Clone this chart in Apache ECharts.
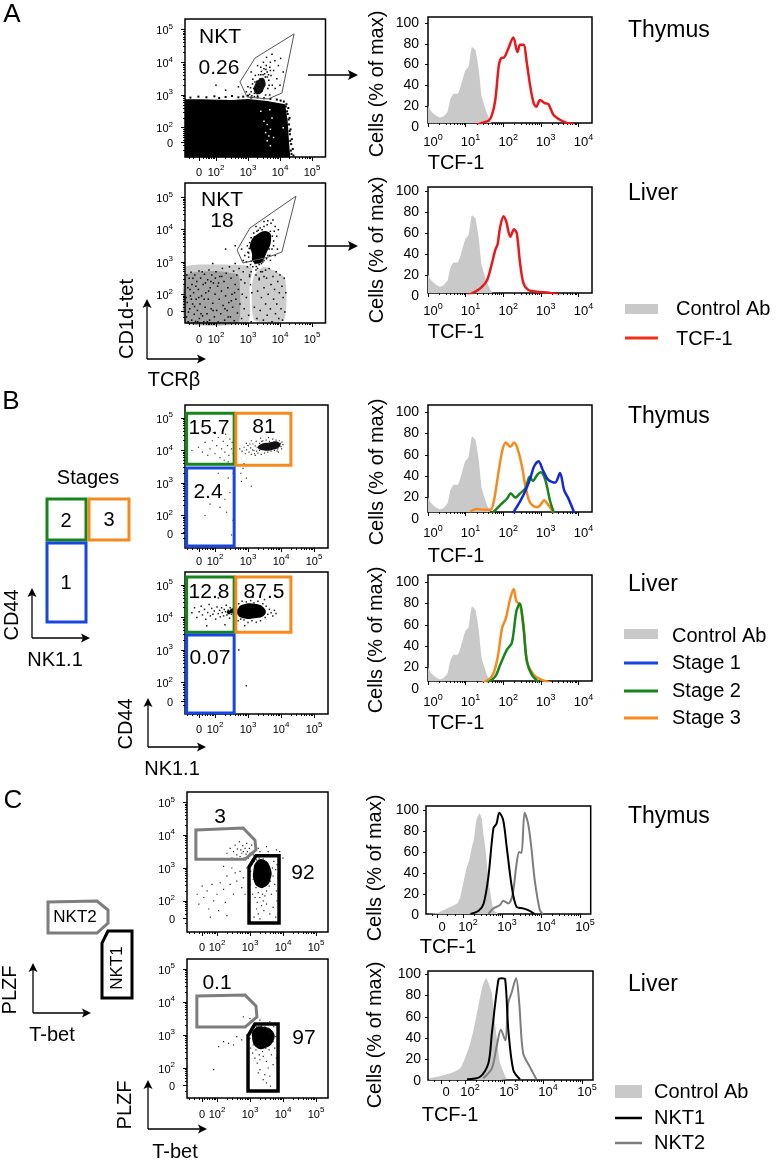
<!DOCTYPE html>
<html><head><meta charset="utf-8">
<style>html,body{margin:0;padding:0;background:#fff}#c{width:776px;height:1161px}</style>
<script src="https://cdn.jsdelivr.net/npm/echarts@6/dist/echarts.min.js"></script></head>
<body><div id="c"></div>
<script>
// ---------- histogram values: [log10 intensity, % of max] ----------
const controlAB=[[0,21],[0.06,16],[0.19,11.5],[0.32,9],[0.42,10.5],[0.52,14.7],[0.59,26],[0.68,32],[0.79,32],[0.86,38],[0.99,54],[1.08,58],[1.17,77],[1.26,74],[1.35,55],[1.43,29],[1.57,13],[1.70,3.5],[1.85,0]];
const redThymus=[[1.2,0],[1.43,4],[1.61,6],[1.70,11.5],[1.79,26],[1.88,58],[1.94,66],[2.03,67],[2.12,74],[2.27,86],[2.38,72],[2.45,79],[2.54,79],[2.63,61],[2.72,39],[2.81,23],[2.88,19.5],[2.98,26],[3.10,23],[3.20,22],[3.34,11.5],[3.51,7],[3.69,4],[3.82,3],[4,0]];
const redLiver=[[1.0,0],[1.21,3.2],[1.39,7.3],[1.57,15],[1.70,31],[1.79,44],[1.85,49],[1.92,66],[2.01,76],[2.08,71],[2.19,56.5],[2.29,63.5],[2.36,60],[2.45,31],[2.54,12],[2.67,5.7],[2.89,4],[3.25,2.9],[3.6,0]];
const orangeB1=[[1.12,7],[1.30,9.3],[1.48,8.7],[1.66,8.7],[1.75,16.4],[1.85,38],[1.97,63],[2.07,71.5],[2.19,67.5],[2.29,71.5],[2.38,66],[2.50,49],[2.60,29],[2.72,15],[2.90,11],[2.99,13],[3.09,17.6],[3.20,13],[3.34,6]];
const greenB1=[[1.70,5],[1.92,13],[2.10,18.9],[2.20,24],[2.32,20],[2.45,24],[2.60,29],[2.70,39.6],[2.79,35.6],[2.90,41],[3.00,43.6],[3.12,36.5],[3.25,16.4],[3.36,5]];
const blueB1=[[2.25,5],[2.45,16.4],[2.60,27],[2.72,38],[2.82,49],[2.94,54],[3.05,46],[3.20,36.5],[3.38,34],[3.51,43],[3.62,27],[3.73,19.5],[3.90,5]];
const orangeB2=[[1.40,5],[1.70,11.8],[1.85,29],[1.97,57],[2.07,66],[2.19,85],[2.28,93.5],[2.35,82],[2.44,79],[2.54,60],[2.63,26],[2.81,13.4],[2.98,9.3],[3.25,6]];
const greenB2=[[1.55,5],[1.79,11.8],[1.92,22.7],[2.10,36.8],[2.23,43],[2.35,72.6],[2.44,80],[2.54,57],[2.63,26],[2.76,13.4],[2.95,6]];
const controlC1=[[1.08,1],[1.34,2],[1.59,6.3],[1.85,11],[1.93,17],[1.97,24],[2.05,38],[2.10,46],[2.16,52],[2.23,65],[2.28,72],[2.34,90],[2.38,94],[2.42,97],[2.48,92],[2.52,78],[2.57,65],[2.63,42],[2.69,24],[2.78,5],[2.91,1]];
const nkt1C1=[[2.19,1],[2.40,4],[2.53,11],[2.65,36],[2.78,82.5],[2.86,87],[2.93,97.5],[3.03,90.5],[3.12,65],[3.25,27],[3.37,8],[3.54,6.3],[3.71,4],[3.84,1]];
const nkt2C1=[[2.65,1],[2.78,6.3],[2.95,9.5],[3.03,13.6],[3.16,11],[3.27,19],[3.37,47.6],[3.44,60],[3.50,59],[3.58,97.5],[3.67,87],[3.75,65],[3.84,33],[3.97,4.8],[4.05,1]];
const controlC2=[[1.08,2.5],[1.37,4.7],[1.63,7.2],[1.88,12],[2.05,26],[2.14,36],[2.22,48],[2.30,62],[2.39,79],[2.46,90],[2.54,96],[2.62,90],[2.69,82],[2.77,54],[2.84,32],[2.90,16.6],[3.07,1.6]];
const nkt1C2=[[2.05,1.6],[2.39,4],[2.60,16.6],[2.69,45],[2.86,95],[2.94,96],[3.03,95],[3.11,48],[3.24,10],[3.41,1.6]];
const nkt2C2=[[2.47,2.5],[2.69,12],[2.81,32],[2.92,48],[3.03,38],[3.11,73],[3.19,82],[3.31,96],[3.39,73],[3.49,26],[3.66,13.4],[3.83,1.6]];
// ---------- tick labels ----------
const pctTicks=[0,20,40,60,80,100];
const logTicksAB=[0,1,2,3,4];
const decadeTicks=[2,3,4,5];
// ---------- flow gates, in decades ----------
const gateA1=[[2.75,3.40],[3.22,4.13],[4.44,4.87],[4.06,3.06],[3.63,2.88],[2.97,2.94]];
const gateA2=[[2.66,3.37],[3.06,4.05],[4.5,5.04],[4.06,3.31],[3.63,3.15],[2.84,2.97]];
const stage2B1=[[1.14,5.15],[2.58,5.15],[2.58,3.58],[1.14,3.58]];
const stage3B1=[[2.63,5.15],[4.30,5.15],[4.30,3.55],[2.63,3.55]];
const stage1B1=[[1.14,3.46],[2.58,3.46],[2.58,1.06],[1.14,1.06]];
const stage2B2=[[1.14,5.25],[2.58,5.25],[2.58,3.55],[1.14,3.55]];
const stage3B2=[[2.63,5.25],[4.30,5.25],[4.30,3.55],[2.63,3.55]];
const stage1B2=[[1.14,3.46],[2.58,3.46],[2.58,1.06],[1.14,1.06]];
const nkt2GateC1=[[1.36,4.16],[2.79,4.22],[3.15,3.85],[3.18,3.55],[2.85,3.27],[1.36,3.27]];
const nkt1GateC1=[[3.18,3.37],[3.88,3.37],[3.88,1.32],[2.97,1.32],[2.97,3.03]];
const nkt2GateC2=[[1.39,4.18],[2.85,4.21],[3.18,3.88],[3.21,3.55],[2.85,3.24],[1.39,3.24]];
const nkt1GateC2=[[3.15,3.33],[3.85,3.33],[3.85,1.30],[2.94,1.30],[2.94,2.97]];
// ---------- flow events, in decades ----------
const a1Block=[[1.03,1.10],[4.32,1.10],[4.28,1.6],[4.24,2.2],[4.16,2.72],[3.6,2.82],[3,2.88],[2.5,2.85],[1.5,2.87],[1.03,2.87]];
const a1Edge=[[1.2,2.92],[1.45,2.95],[1.7,2.93],[1.95,2.96],[2.1,2.91],[2.3,2.94],[2.5,2.97],[2.7,2.93],[2.85,2.95],[3.0,2.98],[3.1,2.92],[3.3,2.93],[3.5,2.9],[3.7,2.88],[3.9,2.86],[4.02,2.83],[4.12,2.8],[4.2,2.72],[4.26,2.6],[4.24,2.42],[4.3,2.3],[4.28,2.1],[4.33,1.95],[4.31,1.8],[4.37,1.65],[4.35,1.5],[4.4,1.35],[4.36,1.2],[4.42,1.15],[4.3,1.9],[4.32,1.6],[4.34,1.3],[4.22,2.5],[4.27,2.25],[4.18,2.65]];
const a1Holes=[[3.6,2.1],[3.7,1.95],[3.65,1.75],[3.55,1.85],[3.75,2.3],[3.6,1.6],[3.7,1.45],[3.4,2.5],[3.8,1.7],[3.5,2.2],[3.68,2.55],[4.1,2.0]];
const a1Cells=[[3.05,3.02],[3.1,3.1],[3.12,2.98],[3.18,3.2],[3.2,2.95],[3.25,3.15],[3.28,3.42],[3.3,2.97],[3.33,3.62],[3.36,3.05],[3.38,3.5],[3.42,3.72],[3.44,3.12],[3.46,3.36],[3.5,3.8],[3.52,3.3],[3.54,3.55],[3.57,3.9],[3.6,3.7],[3.62,3.2],[3.65,3.45],[3.68,3.85],[3.7,4.0],[3.72,3.6],[3.76,3.3],[3.8,3.75],[3.84,4.05],[3.9,3.5],[3.95,3.9],[4.02,4.12],[4.1,3.7],[3.0,3.25],[2.95,3.1],[3.15,3.48],[3.23,3.6],[3.4,3.85],[3.48,4.0],[3.58,4.15],[3.75,4.25],[3.3,3.9],[3.1,3.7],[2.7,3.25],[2.3,3.15],[2.0,3.3],[3.55,3.0],[3.68,3.0],[3.85,3.2],[4.0,3.3],[3.35,3.25],[3.45,3.45],[3.28,3.3],[3.52,3.65],[3.4,3.62],[3.6,3.55],[3.2,3.05],[3.32,3.1],[3.64,3.62],[3.56,3.78],[3.47,3.62],[3.66,3.3],[3.14,3.34],[3.08,3.22],[3.22,3.4],[3.7,3.75]];
const a1Core=[[3.22,3.06],[3.2,3.28],[3.42,3.52],[3.54,3.42],[3.5,3.2],[3.36,3.03]];
const a2Core=[[3.12,3.28],[3.06,3.53],[3.27,3.84],[3.63,3.94],[3.72,3.68],[3.58,3.28],[3.38,2.97],[3.16,3.01]];
const a2Cells=[[2.95,3.0],[3.0,3.3],[2.98,3.5],[3.05,3.6],[3.08,2.92],[3.1,3.75],[3.15,2.85],[3.18,3.9],[3.22,2.95],[3.28,3.95],[3.3,2.8],[3.35,2.92],[3.38,4.05],[3.42,2.95],[3.5,4.1],[3.5,3.05],[3.58,3.1],[3.6,4.15],[3.68,3.2],[3.72,4.2],[3.75,3.4],[3.8,3.65],[3.82,3.95],[3.85,4.1],[3.9,3.8],[3.92,3.4],[3.78,4.3],[3.95,4.0],[2.9,3.2],[2.85,3.05],[3.12,3.45],[3.02,3.15],[3.7,3.05],[3.62,4.28],[3.85,3.2],[3.5,4.25],[3.25,4.1],[2.8,3.4],[2.6,3.5],[3.4,2.7],[3.25,2.6],[3.55,2.75],[3.1,2.7],[3.05,2.55],[3.35,2.5],[3.5,2.55],[3.04,3.42],[3.14,3.62],[3.2,3.78],[3.32,3.98],[3.44,4.0],[3.7,3.95],[3.76,3.8],[3.66,3.4],[3.62,3.2],[3.46,3.0],[3.26,2.86],[3.1,3.02],[3.02,3.28],[3.8,3.5]];
const a2Shade1=[[1.05,1.12],[3.0,1.12],[3.05,2.2],[3.1,2.85],[2.0,2.92],[1.05,2.85]];
const a2Inner1=[[1.05,1.12],[2.7,1.12],[2.75,2.2],[2.7,2.6],[2.0,2.72],[1.05,2.6]];
const a2Shade2=[[3.2,1.2],[4.12,1.2],[4.15,2.5],[3.5,2.85],[3.2,2.6],[3.12,2.2]];
const a2Speck=[[1.08,1.3],[1.1,1.75],[1.12,2.2],[1.13,1.15],[1.16,2.5],[1.18,1.55],[1.2,1.95],[1.22,2.68],[1.24,1.2],[1.25,2.3],[1.27,1.7],[1.3,2.05],[1.32,1.38],[1.34,2.6],[1.36,1.16],[1.38,1.85],[1.4,2.4],[1.42,1.5],[1.45,2.15],[1.47,2.72],[1.48,1.25],[1.5,1.7],[1.52,2.5],[1.55,1.95],[1.58,1.33],[1.6,2.3],[1.62,1.15],[1.64,2.62],[1.66,1.6],[1.68,2.05],[1.72,1.4],[1.74,2.45],[1.76,1.85],[1.78,2.75],[1.8,1.2],[1.82,2.2],[1.85,1.55],[1.87,2.6],[1.9,1.72],[1.92,2.35],[1.95,1.3],[1.97,2.0],[2.0,2.7],[2.02,1.5],[2.05,2.25],[2.07,1.14],[2.1,1.85],[2.12,2.55],[2.15,1.4],[2.17,2.1],[2.2,2.8],[2.22,1.65],[2.25,2.4],[2.27,1.2],[2.3,1.95],[2.32,2.65],[2.35,1.5],[2.37,2.2],[2.4,1.75],[2.42,2.85],[2.45,1.3],[2.47,2.5],[2.5,2.0],[2.52,1.6],[2.55,2.72],[2.57,1.18],[2.6,2.3],[2.62,1.85],[2.65,2.6],[2.67,1.42],[2.7,2.15],[2.72,2.8],[2.75,1.7],[2.78,2.45],[2.8,1.25],[2.82,2.0],[2.85,2.7],[2.88,1.55],[2.9,2.35],[2.95,1.9],[2.98,2.85],[3.02,1.35],[3.05,2.6],[3.08,2.3],[3.1,1.15],[3.12,2.05],[1.15,1.05],[1.07,1.9],[1.09,2.6],[1.14,1.45],[1.19,2.15],[1.23,1.85],[1.28,2.5],[1.33,1.62],[1.37,2.25],[1.43,1.15],[1.46,1.9],[1.53,1.4],[1.57,2.7],[1.63,1.85],[1.67,2.35],[1.73,1.15],[1.77,2.1],[1.84,2.4],[1.91,1.5],[1.98,2.5],[2.08,2.35],[2.18,2.55],[2.28,1.55],[2.38,1.3],[2.48,1.8],[2.58,2.05],[3.2,1.6],[3.25,2.75],[3.28,1.25],[3.3,2.1],[3.35,2.45],[3.38,1.5],[3.42,1.9],[3.45,2.7],[3.48,1.2],[3.5,2.2],[3.55,1.7],[3.58,2.5],[3.6,1.35],[3.63,2.0],[3.66,2.8],[3.7,1.55],[3.72,2.3],[3.75,1.15],[3.78,2.55],[3.8,1.85],[3.83,2.15],[3.86,1.4],[3.88,2.7],[3.9,1.7],[3.93,2.4],[3.96,1.25],[3.98,2.05],[4.0,2.6],[4.03,1.55],[4.06,2.25],[4.08,1.2],[4.1,1.9],[4.13,2.5],[4.15,1.45],[4.18,2.05],[3.4,3.0],[2.3,3.4],[1.9,2.95],[2.6,2.95]];
const b1Core=[[3.3,4.08],[3.5,4.0],[3.75,4.02],[3.98,4.15],[3.9,4.27],[3.65,4.25],[3.4,4.2]];
const b1Cells=[[2.82,3.98],[2.88,4.1],[2.92,3.9],[2.96,4.02],[3.0,4.15],[3.03,3.95],[3.08,4.08],[3.1,3.88],[3.15,4.2],[3.18,4.0],[3.2,3.9],[3.25,4.28],[3.28,4.1],[3.3,3.92],[3.35,4.22],[3.4,3.88],[3.45,4.3],[3.5,3.92],[3.55,4.32],[3.6,3.95],[3.65,4.28],[3.7,3.98],[3.75,4.35],[3.8,4.0],[3.85,4.32],[3.9,4.05],[3.95,4.3],[4.0,4.12],[4.03,4.26],[4.06,4.18],[3.1,4.3],[2.95,4.22],[3.22,3.85],[3.38,4.38],[3.62,4.4],[3.88,3.98],[2.75,4.05],[2.72,3.55],[2.78,3.3],[2.85,3.45],[2.95,3.15],[2.8,3.05],[2.88,3.6],[3.1,2.9],[1.5,4.1],[1.62,3.95],[1.7,4.25],[1.78,3.85],[1.85,4.05],[1.92,4.3],[2.0,3.9],[2.05,4.15],[2.1,4.4],[2.15,3.78],[2.2,4.05],[2.25,4.28],[2.3,3.95],[2.32,4.5],[2.38,4.15],[2.42,3.85],[2.45,4.35],[2.5,4.05],[2.55,3.9],[2.52,4.25],[1.3,4.0],[1.95,4.55],[2.28,3.7],[2.4,3.65],[2.55,3.6],[2.55,3.3],[2.1,3.3],[2.4,3.15],[1.85,2.35],[2.15,2.25],[2.35,2.1],[1.7,2.0],[2.55,1.85],[2.5,1.4],[2.45,2.7],[2.3,2.5],[3.22,4.14],[3.14,4.02],[3.06,4.2],[3.26,3.98],[3.35,4.0],[3.42,4.28],[4.02,4.05],[3.98,4.22],[3.92,3.95]];
const b2Core=[[2.68,4.1],[2.85,3.98],[3.2,3.98],[3.5,4.08],[3.5,4.28],[3.2,4.42],[2.85,4.4],[2.7,4.28]];
const b2Cells=[[2.64,4.0],[2.66,4.25],[2.7,3.9],[2.72,4.42],[2.78,3.95],[2.82,4.5],[2.88,3.92],[2.95,4.48],[3.0,3.85],[3.08,4.52],[3.12,3.9],[3.18,4.45],[3.25,3.85],[3.3,4.5],[3.38,3.9],[3.45,4.42],[3.52,4.0],[3.55,4.35],[3.6,4.1],[3.65,4.25],[3.7,4.15],[3.75,4.05],[3.8,4.22],[3.85,4.12],[3.5,4.55],[3.15,4.62],[2.9,3.75],[1.3,4.15],[1.38,4.3],[1.45,4.0],[1.52,4.18],[1.58,4.35],[1.62,4.08],[1.68,4.25],[1.72,3.95],[1.78,4.15],[1.82,4.4],[1.86,4.05],[1.9,4.28],[1.94,4.1],[1.98,4.2],[2.02,3.95],[2.06,4.32],[2.1,4.12],[2.14,4.22],[2.16,4.02],[2.2,4.3],[2.22,4.15],[2.26,4.05],[2.28,4.25],[2.32,4.18],[2.34,4.38],[2.36,4.08],[2.4,4.22],[2.42,4.12],[2.44,3.98],[2.46,4.3],[2.48,4.18],[2.5,4.1],[2.52,4.25],[2.54,4.15],[2.56,4.05],[2.1,4.6],[1.75,3.75],[2.3,3.78],[2.72,3.0],[2.95,1.9]];
const b2CoreSmall=[[2.42,4.16],[2.5,4.2],[2.54,4.22]];
const c1Core=[[3.1,2.9],[3.2,3.2],[3.42,3.25],[3.62,3.0],[3.62,2.65],[3.45,2.42],[3.25,2.42],[3.12,2.6]];
const c1Cells=[[3.0,2.5],[3.02,2.9],[3.05,3.1],[3.08,2.2],[3.1,2.65],[3.12,3.2],[3.15,2.1],[3.18,2.4],[3.2,3.25],[3.22,1.95],[3.25,2.25],[3.28,3.3],[3.3,2.1],[3.35,1.85],[3.38,2.2],[3.4,3.28],[3.45,2.15],[3.48,3.2],[3.5,2.3],[3.55,3.1],[3.58,2.45],[3.6,2.9],[3.62,2.6],[3.65,2.2],[3.68,3.0],[3.7,2.75],[3.72,3.2],[3.75,2.5],[3.78,2.95],[3.8,2.3],[3.82,3.1],[3.85,2.7],[3.25,1.6],[3.3,1.45],[3.42,1.7],[3.5,1.9],[3.6,1.6],[3.7,1.8],[3.78,1.5],[3.82,2.0],[3.4,2.0],[3.2,1.75],[3.12,1.5],[3.55,1.35],[3.9,3.5],[4.0,3.3],[3.8,3.55],[3.55,3.5],[3.3,3.5],[3.5,3.65],[3.25,3.6],[2.3,3.45],[2.4,3.6],[2.45,3.3],[2.5,3.5],[2.55,3.7],[2.6,3.4],[2.62,3.58],[2.68,3.8],[2.7,3.35],[2.72,3.55],[2.75,3.45],[2.78,3.68],[2.8,3.5],[2.82,3.3],[2.85,3.6],[2.88,3.42],[2.9,3.75],[2.92,3.5],[2.95,3.3],[2.98,3.6],[3.0,3.45],[3.05,3.7],[3.1,3.4],[1.4,2.2],[1.45,1.9],[1.55,2.45],[1.6,2.1],[1.7,2.3],[1.75,1.75],[1.85,2.5],[1.9,2.0],[2.0,2.2],[2.05,1.7],[2.1,2.55],[2.2,2.35],[2.25,1.95],[2.3,2.75],[2.4,2.5],[2.5,2.2],[2.55,2.85],[2.6,2.6],[2.7,2.9],[2.75,2.4],[2.8,2.7],[2.85,2.2],[2.9,3.0],[2.2,3.05],[2.45,3.0],[1.8,1.5],[2.3,1.55]];
const c2Core=[[3.06,2.95],[3.15,3.2],[3.4,3.25],[3.7,3.1],[3.7,2.8],[3.45,2.6],[3.2,2.62]];
const c2Cells=[[3.0,2.9],[3.02,2.6],[3.05,3.15],[3.08,2.45],[3.1,2.7],[3.15,2.3],[3.18,2.55],[3.2,3.25],[3.22,2.15],[3.28,2.4],[3.3,2.25],[3.35,3.28],[3.38,2.5],[3.4,2.35],[3.45,3.25],[3.48,2.6],[3.5,2.2],[3.55,3.2],[3.58,2.55],[3.6,3.05],[3.62,2.75],[3.65,2.4],[3.68,3.1],[3.7,2.8],[3.72,3.25],[3.75,2.6],[3.78,2.95],[3.8,2.3],[3.3,1.95],[3.45,1.8],[3.55,2.0],[3.6,1.75],[3.7,2.1],[3.5,1.55],[3.62,1.45],[3.25,1.85],[3.4,1.65],[3.6,3.4],[3.3,3.45],[2.05,2.65],[2.2,2.8],[2.35,2.75],[2.5,2.7],[2.6,2.95],[2.75,2.85],[2.9,3.0],[1.9,1.95],[2.8,3.55],[3.0,3.5]];

// ---------- layout (pixels) ----------
const scatterPanels=[
 {l:185,r:325.5,t:19,b:157,x3:248,dx:32,y3:95,dy:32.7,x0:199,y0:142,m:7},
 {l:185,r:325.5,t:183,b:323,x3:248,dx:32,y3:262,dy:32.3,x0:199,y0:311,m:8},
 {l:185,r:328,t:405,b:548,x3:248,dx:33,y3:483,dy:32.5,x0:199,y0:533,m:5},
 {l:185,r:328,t:572,b:714,x3:248,dx:33,y3:650,dy:32.5,x0:199,y0:701,m:7},
 {l:187,r:328,t:792,b:932,x3:250,dx:33,y3:868,dy:32.8,x0:202,y0:918,m:7},
 {l:187,r:328,t:959,b:1098,x3:250,dx:33,y3:1035,dy:33,x0:202,y0:1085,m:8}];
const BLUE='#1746e0',GREEN='#16861c',ORANGE='#f58a1f',GREY='#7d7d7d',RED='#e8191c';
const scatterContent=[
 {polys:[{p:a1Block,fill:'#000'},{p:a1Core,fill:'#111',smooth:.5}],dots:[{d:a1Edge,s:2},{d:a1Holes,s:1.5,c:'#fff'},{d:a1Cells,s:1.5}],gates:[{p:gateA1,c:'#555',w:1}]},
 {polys:[{p:a2Shade1,fill:'rgba(0,0,0,.2)',smooth:.15},{p:a2Inner1,fill:'rgba(0,0,0,.2)',smooth:.15},{p:a2Shade2,fill:'rgba(0,0,0,.2)',smooth:.2},{p:a2Core,fill:'#000',smooth:.5}],dots:[{d:a2Speck,s:1.5},{d:a2Cells,s:1.5}],gates:[{p:gateA2,c:'#555',w:1}]},
 {polys:[{p:b1Core,fill:'#111',smooth:.5}],dots:[{d:b1Cells,s:1.2,c:'#333'}],gates:[{p:stage2B1,c:GREEN,w:3},{p:stage3B1,c:ORANGE,w:3},{p:stage1B1,c:BLUE,w:3}]},
 {polys:[{p:b2Core,fill:'#000',smooth:.5}],dots:[{d:b2Cells,s:1.5,c:'#222'},{d:b2CoreSmall,s:4}],gates:[{p:stage2B2,c:GREEN,w:3},{p:stage3B2,c:ORANGE,w:3},{p:stage1B2,c:BLUE,w:3}]},
 {polys:[{p:c1Core,fill:'#000',smooth:.5}],dots:[{d:c1Cells,s:1.2,c:'#222'}],gates:[{p:nkt2GateC1,c:GREY,w:3},{p:nkt1GateC1,c:'#000',w:3.5}]},
 {polys:[{p:c2Core,fill:'#000',smooth:.5}],dots:[{d:c2Cells,s:1.2,c:'#222'}],gates:[{p:nkt2GateC2,c:GREY,w:3},{p:nkt1GateC2,c:'#000',w:3.5}]}];
const histPanels=[
 {l:428,r:592,t:17,b:123,y100:23,y0:127,x3:428+3*37.6,dx:37.6,m:10,ym:9},
 {l:428,r:592,t:187,b:293,y100:191,y0:296,x3:428+3*37.6,dx:37.6,m:9,ym:9},
 {l:428,r:592,t:405,b:512,y100:412,y0:519,x3:428+3*37.6,dx:37.6,m:12,ym:9},
 {l:428,r:592,t:575,b:681,y100:582,y0:689,x3:428+3*37.6,dx:37.6,m:12,ym:9},
 {l:426,r:590.7,t:806,b:914,y100:810,y0:915,x3:502,dx:39,zero:437,m:4,ym:7},
 {l:428,r:593,t:971,b:1080,y100:974,y0:1081,x3:504,dx:39,zero:441,m:3,ym:7}];
const histContent=[
 {fill:controlAB,lines:[{d:redThymus,c:RED}]},
 {fill:controlAB,lines:[{d:redLiver,c:RED}]},
 {fill:controlAB,lines:[{d:orangeB1,c:ORANGE},{d:greenB1,c:GREEN},{d:blueB1,c:'#1428d8'}]},
 {fill:controlAB,lines:[{d:blueB1.slice(0,0),c:BLUE},{d:orangeB2,c:ORANGE},{d:greenB2,c:GREEN}]},
 {fill:controlC1,lines:[{d:nkt2C1,c:GREY,w:2},{d:nkt1C1,c:'#000',w:2}]},
 {fill:controlC2,lines:[{d:nkt2C2,c:GREY,w:2},{d:nkt1C2,c:'#000',w:2}]}];

const FONT='"Liberation Sans",Helvetica,Arial,sans-serif';
const grids=[],xAxes=[],yAxes=[],series=[];
const lg=[2,3,4,5,6,7,8,9].map(Math.log10);
const r4=v=>Math.round(v*1e4)/1e4;
function minorsFrom(from,to,min,max){const o=[];for(let d=from;d<to;d++)lg.forEach(v=>{const t=d+v;if(t>min&&t<max)o.push(t)});return o}
function grid(l,t,r,b,show){grids.push({left:l,top:t,width:r-l,height:b-t,show:!!show,borderColor:'#000',borderWidth:1.5,containLabel:false,backgroundColor:'transparent'});return grids.length-1}
function axisDef(g,min,max,major,fmt,opts){
 const o=opts||{},fs=o.fs||11;
 return {type:'value',gridIndex:g,min,max,position:o.position,splitLine:{show:false},axisLine:{show:!!o.line,onZero:false,lineStyle:{color:'#000',width:1.5}},
  axisTick:{show:major.length>0,inside:false,length:o.tick||4,customValues:o.tickValues||major,lineStyle:{color:'#000',width:o.tw||1}},
  axisLabel:{show:!!fmt,customValues:major,formatter:fmt,margin:o.margin||7,color:'#000',fontFamily:FONT,fontSize:fs,padding:o.pad||0,hideOverlap:false,showMinLabel:true,showMaxLabel:true,
   rich:{b:{fontFamily:FONT,fontSize:fs,color:'#000',lineHeight:fs+3,verticalAlign:'bottom'},s:{fontFamily:FONT,fontSize:Math.round(fs*.72),color:'#000',lineHeight:fs,verticalAlign:'top'}}}};
}
function addAxes(g,xs,ys){const xi=[],yi=[];xs.forEach(a=>{xAxes.push(a);xi.push(xAxes.length-1)});ys.forEach(a=>{yAxes.push(a);yi.push(yAxes.length-1)});return {x:xi[0],y:yi[0]}}
const pow=v=>'{b|10}{s|'+Math.round(v)+'}';

scatterPanels.forEach((p,i)=>{
 const g=grid(p.l,p.t,p.r,p.b,true);
 const xr=[r4(3+(p.l-p.x3)/p.dx),r4(3+(p.r-p.x3)/p.dx)],yr=[r4(3+(p.y3-p.b)/p.dy),r4(3+(p.y3-p.t)/p.dy)];
 const xz=r4(3+(p.x0-p.x3)/p.dx),yz=r4(3+(p.y3-p.y0)/p.dy);
 const fx=v=>Math.abs(v-xz)<1e-6?'{b|0}':pow(v),fy=v=>Math.abs(v-yz)<1e-6?'{b|0}':pow(v);
 const ax=addAxes(g,[
  axisDef(g,xr[0],xr[1],[xz].concat(decadeTicks),fx,{position:'bottom',margin:p.m}),
  axisDef(g,xr[0],xr[1],minorsFrom(1,5,xr[0],xr[1]).concat([1.15,1.3,1.75]),null,{position:'bottom',tick:2})],[
  axisDef(g,yr[0],yr[1],[yz].concat(decadeTicks),fy,{position:'left',margin:12}),
  axisDef(g,yr[0],yr[1],minorsFrom(1,5,yr[0],yr[1]),null,{position:'left',tick:2})]);
 const c=scatterContent[i];
 const poly=(pts,style,z,smooth)=>series.push({type:'custom',coordinateSystem:'cartesian2d',xAxisIndex:ax.x,yAxisIndex:ax.y,data:pts,encode:{x:0,y:1},silent:true,z,
   renderItem:(pr,api)=>pr.dataIndex?null:{type:'polygon',shape:{points:pts.map(v=>api.coord(v)),smooth:smooth||0},style}});
 c.polys.forEach(s=>poly(s.p,{fill:s.fill},2,s.smooth));
 c.dots.forEach(s=>series.push({type:'scatter',xAxisIndex:ax.x,yAxisIndex:ax.y,data:s.d,symbol:s.s>3?'circle':'rect',symbolSize:s.s,itemStyle:{color:s.c||'#000',opacity:1},silent:true,z:3}));
 c.gates.forEach(s=>poly(s.p,{fill:'none',stroke:s.c,lineWidth:s.w,lineJoin:'miter'},4));
});

histPanels.forEach((p,i)=>{
 const unit=(p.y0-p.y100)/100;
 const ymax=(p.y0-p.t)/unit,ymin=(p.y0-p.b)/unit;
 const xr=[r4(3+(p.l-p.x3)/p.dx),r4(3+(p.r-p.x3)/p.dx)];
 const g=grid(p.l,p.t,p.r,p.b,true);
 const isC=p.zero!==undefined;
 const xz=isC?r4(3+(p.zero-p.x3)/p.dx):null;
 const mj=isC?[xz].concat(decadeTicks):logTicksAB;
 const fx=v=>(isC&&Math.abs(v-xz)<1e-6)?'{b|0}':pow(v);
 const mn=isC?minorsFrom(2,5,xr[0],xr[1]).concat([1.2,1.6,1.8]):minorsFrom(0,4,xr[0],xr[1]);
 const ax=addAxes(g,[
  axisDef(g,xr[0],xr[1],mj,fx,{position:'bottom',margin:p.m,fs:13,pad:[0,0,0,10],tick:4}),
  axisDef(g,xr[0],xr[1],mn,null,{position:'bottom',tick:2})],[
  axisDef(g,ymin,ymax,[],null,{position:'left'})]);
 // second grid carries the percent scale, as it is drawn offset from the frame in the figure
 const g2=grid(p.l,p.t,p.r,p.y0,false);
 addAxes(g2,[axisDef(g2,xr[0],xr[1],[],null,{position:'bottom'})],[
  axisDef(g2,0,ymax,pctTicks,v=>String(v),{position:'left',margin:p.ym,fs:14,tick:3,tickValues:[20,40,60,80,100]}),
  axisDef(g2,0,ymax,[],null,{position:'left'})]);
 const c=histContent[i];
 series.push({type:'line',xAxisIndex:ax.x,yAxisIndex:ax.y,data:c.fill,showSymbol:false,smooth:0.15,lineStyle:{width:0},areaStyle:{color:'#c9c9c9',opacity:1,origin:'start'},silent:true,z:2});
 c.lines.forEach(s=>{if(s.d.length)series.push({type:'line',xAxisIndex:ax.x,yAxisIndex:ax.y,data:s.d,showSymbol:false,smooth:0.3,lineStyle:{color:s.c,width:s.w||2.5},silent:true,z:3})});
});

// ---------- figure text and schematics ----------
const g=[];
function T(text,x,y,size,rot,opt){g.push({type:'text',x,y,rotation:rot?Math.PI/2:0,z:50,silent:true,style:Object.assign({text,fill:'#000',font:size+'px '+FONT,align:'center',verticalAlign:'middle',textAlign:'center',textVerticalAlign:'middle'},opt||{})})}
function L(text,x,y,size){T(text,x,y,size,false,{align:'left',textAlign:'left'})}
function arrow(x,y,top,right){
 const st={stroke:'#000',lineWidth:1.3};
 g.push({type:'line',z:50,silent:true,shape:{x1:x,y1:y,x2:x,y2:top+4},style:st});
 g.push({type:'line',z:50,silent:true,shape:{x1:x,y1:y,x2:right-4,y2:y},style:st});
 g.push({type:'polygon',z:50,silent:true,shape:{points:[[x,top],[x-4.5,top+9],[x,top+7],[x+4.5,top+9]]},style:{fill:'#000'}});
 g.push({type:'polygon',z:50,silent:true,shape:{points:[[right,y],[right-9,y-4.5],[right-7,y],[right-9,y+4.5]]},style:{fill:'#000'}});
}
function hArrow(x1,x2,y){
 g.push({type:'line',z:50,silent:true,shape:{x1,y1:y,x2:x2-4,y2:y},style:{stroke:'#000',lineWidth:1.5}});
 g.push({type:'polygon',z:50,silent:true,shape:{points:[[x2,y],[x2-10,y-5],[x2-8,y],[x2-10,y+5]]},style:{fill:'#000'}});
}
function box(pts,c,w){g.push({type:'polygon',z:40,silent:true,shape:{points:pts},style:{fill:'none',stroke:c,lineWidth:w}})}
function rect(x,y,w,h,c){g.push({type:'rect',z:40,silent:true,shape:{x,y,width:w,height:h},style:{fill:c}})}
function seg(x1,x2,y,c,w){g.push({type:'line',z:40,silent:true,shape:{x1,y1:y,x2,y2:y},style:{stroke:c,lineWidth:w}})}

T('A',12,15,26);T('B',11,402,26);T('C',13,801,26);
['Thymus',31,'Liver',194,'Thymus',417,'Liver',585,'Thymus',817,'Liver',985].forEach((v,i,a)=>{if(i%2==0)L(v,628,a[i+1],23)});
[[377,84],[377,250],[377,472],[376,640],[375,868],[375,1035]].forEach(c=>T('Cells (% of max)',c[0],c[1],20,true));
[[456,163],[456,332],[456,556],[456,723],[448,947],[450,1115]].forEach(c=>T('TCF-1',c[0],c[1],20));
hArrow(308,358,75);hArrow(308,358,246);
T('NKT',220,37,21);T('0.26',219,68,21);T('NKT',222,200,21);T('18',222,221,21);
T('15.7',209,428,21);T('81',264,427,21);T('2.4',208,492,21);
T('12.8',209,592,21);T('87.5',264,592,21);T('0.07',210,658,21);
T('3',220,817,21);T('92',303,873,21);T('0.1',217,983,21);T('97',304,1038,21);
arrow(147,359,299,206);T('CD1d-tet',127,319,20,true);T('TCRβ',174,380,20);
// Stage schematic
T('Stages',88,478,20);
box([[47,499],[86,499],[86,540],[47,540]],GREEN,3);T('2',66,521,20);
box([[89,499],[129,499],[129,540],[89,540]],ORANGE,3);T('3',109,520,20);
box([[47,543],[86,543],[86,622],[47,622]],BLUE,3);T('1',66,583,20);
arrow(32,638,588,90);T('CD44',12,615,20,true);T('NK1.1',55,660,20);
arrow(148,747,698,206);T('CD44',126,724,20,true);T('NK1.1',172,769,20);
// NKT schematic
box([[48,902],[97,901],[108,910],[108,923],[97,933],[48,933]],GREY,3);T('NKT2',75,917,17);
box([[108,931],[132,931],[132,998],[102,998],[102,943]],'#000',3);T('NKT1',117,968,17,true);
arrow(33,1013,963,91);T('PLZF',10,990,20,true);T('T-bet',52,1035,20);
arrow(148,1129,1080,207);T('PLZF',125,1105,20,true);T('T-bet',175,1152,20);
// Legends
rect(625,304,33,10,'#c9c9c9');L('Control Ab',676,309,20);seg(625,658,338,'#f4301a',3);L('TCF-1',676,339,20);
rect(624,629,34,10,'#c9c9c9');L('Control Ab',672,636,20);
seg(624,658,663,BLUE,3);L('Stage 1',672,663,20);seg(624,658,691,GREEN,3);L('Stage 2',672,691,20);seg(624,658,718,ORANGE,3);L('Stage 3',672,718,20);
rect(615,1085,27,13,'#c9c9c9');L('Control Ab',654,1092,20);
seg(615,642,1118,'#000',2.5);L('NKT1',654,1118,20);seg(615,642,1143,GREY,2.5);L('NKT2',654,1143,20);

const chart=echarts.init(document.getElementById('c'),null,{renderer:'canvas'});
chart.setOption({animation:false,backgroundColor:'#fff',grid:grids,xAxis:xAxes,yAxis:yAxes,series,graphic:{elements:g}});
</script></body></html>
